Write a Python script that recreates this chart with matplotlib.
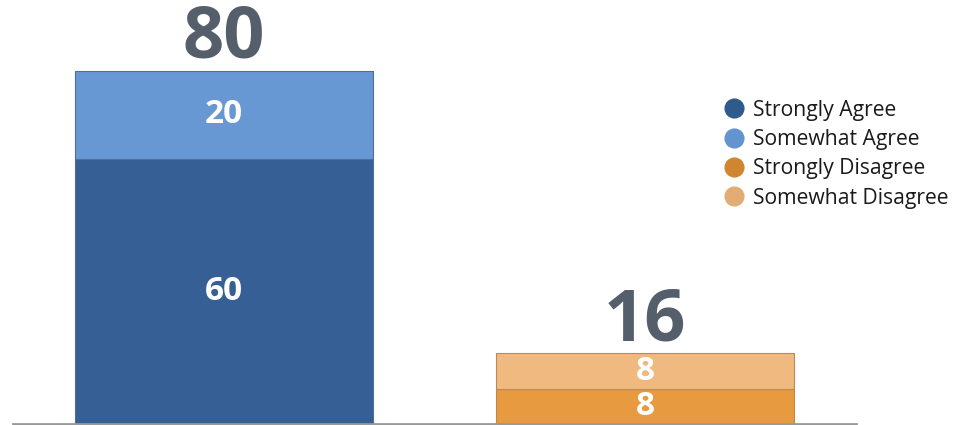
import matplotlib
matplotlib.use("Agg")
import matplotlib.pyplot as plt
from matplotlib.lines import Line2D

categories = ["Agree", "Disagree"]
series_names = ["Strongly Agree", "Somewhat Agree", "Strongly Disagree", "Somewhat Disagree"]
bottom_vals = [60, 8]     # strongly agree / strongly disagree
top_vals = [20, 8]        # somewhat agree / somewhat disagree
totals = [b + t for b, t in zip(bottom_vals, top_vals)]

bottom_colors = ["#365f96", "#e89a40"]
top_colors = ["#6898d4", "#efb97f"]
edge_colors = ["#4f6f98", "#b98a52"]
legend_colors = ["#2f5a8c", "#6393d0", "#d0862e", "#e4ac75"]

plt.rcParams["font.family"] = ["Open Sans", "DejaVu Sans"]

fig = plt.figure(figsize=(9.57, 4.25), dpi=100)
ax = fig.add_axes([13 / 957, 1 / 425, 843 / 957, 424 / 425])

x = list(range(len(categories)))
ax.bar(x, bottom_vals, width=0.707, color=bottom_colors, edgecolor=edge_colors, linewidth=0.8)
ax.bar(x, top_vals, width=0.707, bottom=bottom_vals, color=top_colors, edgecolor=edge_colors, linewidth=0.8)

for i in x:
    ax.text(i, bottom_vals[i] / 2, str(bottom_vals[i]), ha="center", va="center",
            color="white", fontsize=24, fontweight="bold")
    ax.text(i, bottom_vals[i] + top_vals[i] / 2, str(top_vals[i]), ha="center", va="center",
            color="white", fontsize=24, fontweight="bold")
    ax.text(i, totals[i] + 3.0, str(totals[i]), ha="center", va="baseline",
            color="#555f6b", fontsize=52, fontweight="bold")

ax.set_xlim(-0.5, 1.5)
ax.set_ylim(0, 96)
ax.axis("off")
ax.axhline(0, color="#999999", linewidth=2, clip_on=False)

handles = [Line2D([], [], marker="o", linestyle="", markersize=13.5, color=c) for c in legend_colors]
leg = fig.legend(handles, series_names, loc="upper left", bbox_to_anchor=(711 / 957, 1 - 89 / 425),
                 frameon=False, fontsize=15.2, handletextpad=0.3, labelspacing=0.4,
                 borderpad=0, handlelength=1.2)
for t in leg.get_texts():
    t.set_color("#1a1a1a")

fig.savefig("out.png", dpi=100)
